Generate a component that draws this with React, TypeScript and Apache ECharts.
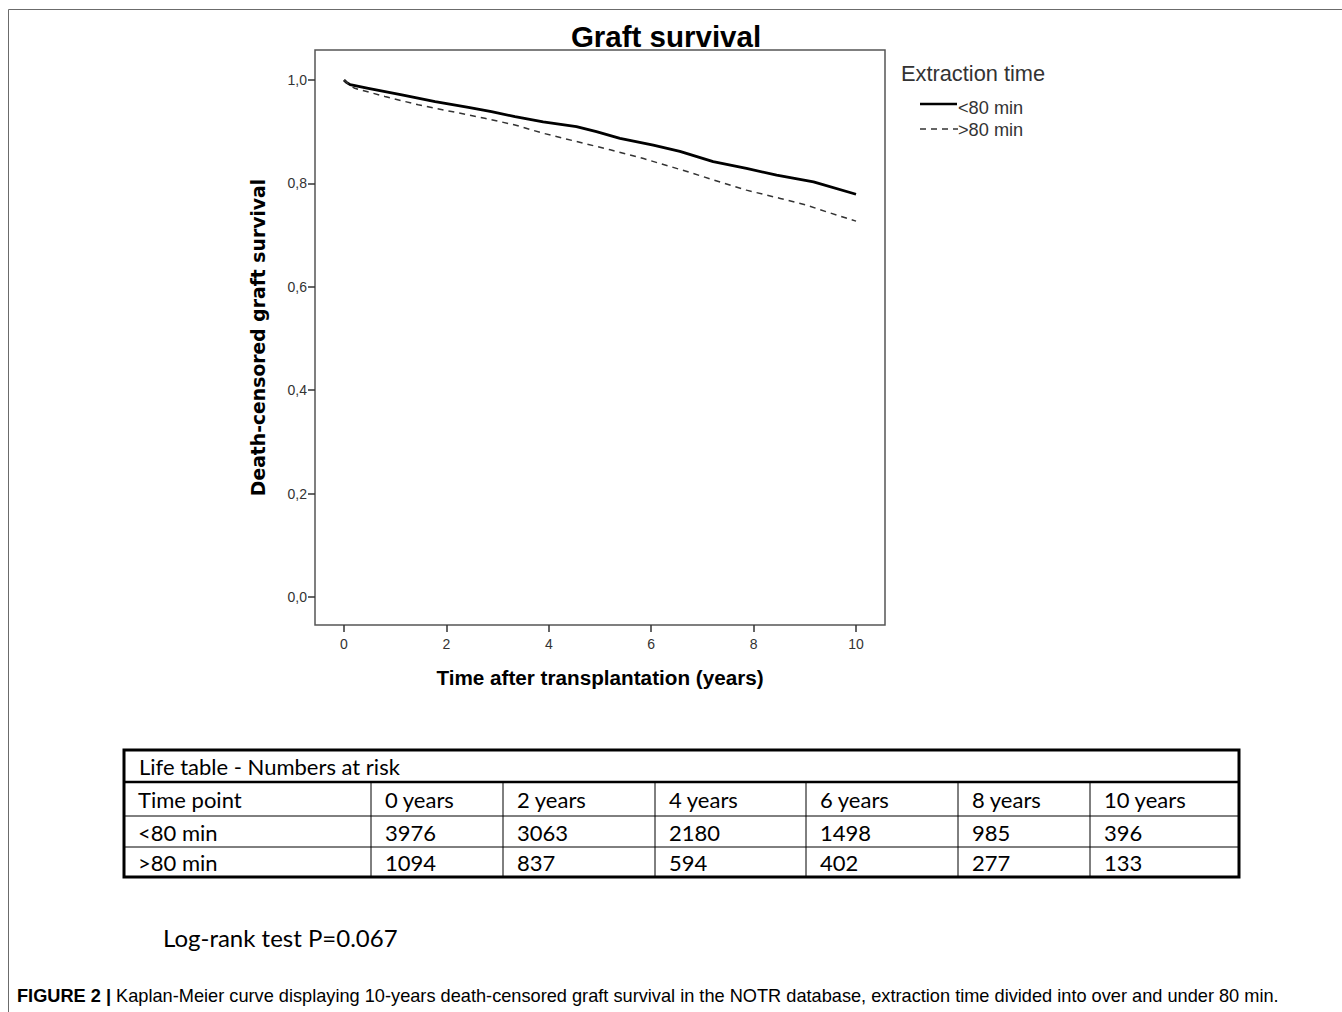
import React, { useEffect, useRef } from "react";
import * as echarts from "echarts";

// ---- Data ----
const xTicks = [0, 2, 4, 6, 8, 10];
const yTicks = [0, 0.2, 0.4, 0.6, 0.8, 1.0];

// Kaplan-Meier curves: [years, survival]
const under80: [number, number][] = [
  [0, 1.0], [0.04, 0.996], [0.12, 0.991], [0.475, 0.984], [1.13, 0.971], [1.78, 0.958],
  [2.43, 0.947], [2.88, 0.939], [3.34, 0.929], [3.89, 0.919], [4.54, 0.91],
  [4.93, 0.9], [5.39, 0.887], [6.04, 0.874], [6.56, 0.862], [7.21, 0.842],
  [7.86, 0.829], [8.45, 0.816], [9.17, 0.803], [10.0, 0.779],
];
const over80: [number, number][] = [
  [0, 1.0], [0.08, 0.993], [0.21, 0.984], [0.8, 0.968], [1.45, 0.952],
  [2.1, 0.939], [2.75, 0.926], [3.34, 0.913], [3.89, 0.897], [4.54, 0.881],
  [5.2, 0.865], [5.85, 0.848], [6.7, 0.823], [7.21, 0.807], [7.86, 0.787],
  [8.52, 0.771], [9.04, 0.758], [9.3, 0.749], [10.0, 0.727],
];

const seriesNames = ["<80 min", ">80 min"];
const tableTitle = "Life table - Numbers at risk";
const tableHeader = ["Time point", "0 years", "2 years", "4 years", "6 years", "8 years", "10 years"];
const riskUnder80 = ["<80 min", "3976", "3063", "2180", "1498", "985", "396"];
const riskOver80 = [">80 min", "1094", "837", "594", "402", "277", "133"];
const logRankText = "Log-rank test P=0.067";
const captionBold = "FIGURE 2 |";
const captionText =
  " Kaplan-Meier curve displaying 10-years death-censored graft survival in the NOTR database, extraction time divided into over and under 80 min.";

// ---- Layout ----
const W = 1342;
const H = 1012;
const colX = [124, 371, 503, 655, 806, 958, 1090, 1239];
const rowY = [750, 782, 816, 847, 877];

function buildGraphics() {
  const els: any[] = [];
  // page frame
  els.push({ type: "line", shape: { x1: 8.5, y1: 9.5, x2: W, y2: 9.5 }, style: { stroke: "#6b6b6b", lineWidth: 1 } });
  els.push({ type: "line", shape: { x1: 8.5, y1: 9.5, x2: 8.5, y2: H }, style: { stroke: "#6b6b6b", lineWidth: 1 } });

  // legend
  els.push({
    type: "text", x: 901, y: 73,
    style: { text: "Extraction time", font: "21.8px 'Liberation Sans'", fill: "#333", textAlign: "left", textVerticalAlign: "middle" },
  });
  els.push({ type: "line", shape: { x1: 920, y1: 104, x2: 957, y2: 104 }, style: { stroke: "#000", lineWidth: 2.5 } });
  els.push({
    type: "text", x: 958, y: 108,
    style: { text: seriesNames[0], font: "18.2px 'Liberation Sans'", fill: "#333", textAlign: "left", textVerticalAlign: "middle" },
  });
  els.push({ type: "line", shape: { x1: 920, y1: 129, x2: 958, y2: 129 }, style: { stroke: "#333", lineWidth: 1.5, lineDash: [6, 5] } });
  els.push({
    type: "text", x: 958, y: 130,
    style: { text: seriesNames[1], font: "18.2px 'Liberation Sans'", fill: "#333", textAlign: "left", textVerticalAlign: "middle" },
  });

  // table
  const L = colX[0];
  const R = colX[colX.length - 1];
  els.push({ type: "line", shape: { x1: L, y1: rowY[1], x2: R, y2: rowY[1] }, style: { stroke: "#000", lineWidth: 2.5 } });
  els.push({ type: "line", shape: { x1: L, y1: rowY[2], x2: R, y2: rowY[2] }, style: { stroke: "#000", lineWidth: 1 } });
  els.push({ type: "line", shape: { x1: L, y1: rowY[3], x2: R, y2: rowY[3] }, style: { stroke: "#000", lineWidth: 1 } });
  for (let i = 1; i < colX.length - 1; i++) {
    els.push({ type: "line", shape: { x1: colX[i], y1: rowY[1], x2: colX[i], y2: rowY[4] }, style: { stroke: "#000", lineWidth: 1 } });
  }
  els.push({
    type: "rect", shape: { x: L, y: rowY[0], width: R - L, height: rowY[4] - rowY[0] },
    style: { fill: "none", stroke: "#000", lineWidth: 3 },
  });
  const tfont = "22px Lato";
  els.push({
    type: "text", x: L + 15, y: (rowY[0] + rowY[1]) / 2,
    style: { text: tableTitle, font: tfont, fill: "#000", textAlign: "left", textVerticalAlign: "middle" },
  });
  const rows = [tableHeader, riskUnder80, riskOver80];
  rows.forEach((row, r) => {
    const cy = (rowY[r + 1] + rowY[r + 2]) / 2 + 0.5;
    row.forEach((cell, c) => {
      els.push({
        type: "text", x: colX[c] + 14, y: cy,
        style: { text: cell, font: tfont, fill: "#000", textAlign: "left", textVerticalAlign: "middle" },
      });
    });
  });

  // log-rank
  els.push({
    type: "text", x: 163, y: 937,
    style: { text: logRankText, font: "24px Lato", fill: "#000", textAlign: "left", textVerticalAlign: "middle" },
  });

  // caption
  els.push({
    type: "text", x: 17, y: 996,
    style: {
      text: "{b|" + captionBold + "}{n|" + captionText + "}",
      textAlign: "left", textVerticalAlign: "middle",
      rich: {
        b: { font: "bold 18.2px 'Liberation Sans'", fill: "#000" },
        n: { font: "18.2px 'Liberation Sans'", fill: "#000" },
      },
    },
  });
  return els;
}

export default function App() {
  const ref = useRef<HTMLDivElement>(null);
  useEffect(() => {
    if (!ref.current) return;
    const chart = echarts.init(ref.current, undefined, { renderer: "svg" });
    const fmt = (v: number) => v.toFixed(1).replace(".", ",");
    chart.setOption({
      animation: false,
      backgroundColor: "#fff",
      title: {
        text: "Graft survival",
        left: 661,
        top: 16,
        textAlign: "center",
        textStyle: { fontFamily: "'Liberation Sans'", fontWeight: "bold", fontSize: 29.5, color: "#000" },
      },
      grid: {
        left: 315, top: 50, width: 570, height: 575,
        show: true, borderColor: "#555", borderWidth: 1.5, backgroundColor: "#fff",
      },
      xAxis: {
        type: "value",
        min: -0.566,
        max: 10.566,
        name: "Time after transplantation (years)",
        nameLocation: "middle",
        nameGap: 42,
        nameTextStyle: { fontFamily: "'Liberation Sans'", fontWeight: "bold", fontSize: 20.7, color: "#000" },
        axisLine: { show: false, onZero: false },
        axisTick: { show: true, inside: false, length: 7, customValues: xTicks, lineStyle: { color: "#333", width: 1.5 } },
        axisLabel: { customValues: xTicks, fontFamily: "'Liberation Sans'", fontSize: 14, color: "#333", margin: 12 },
        splitLine: { show: false },
      },
      yAxis: {
        type: "value",
        min: -0.054,
        max: 1.058,
        name: "Death-censored graft survival",
        nameLocation: "middle",
        nameGap: 47,
        nameRotate: 90,
        nameTextStyle: { fontFamily: "'DejaVu Sans'", fontWeight: "bold", fontSize: 18.8, color: "#000" },
        axisLine: { show: false, onZero: false },
        axisTick: { show: true, inside: false, length: 7, customValues: yTicks, lineStyle: { color: "#333", width: 1.5 } },
        axisLabel: { customValues: yTicks, formatter: fmt, fontFamily: "'Liberation Sans'", fontSize: 14, color: "#333", margin: 8 },
        splitLine: { show: false },
      },
      series: [
        {
          name: seriesNames[0], type: "line", data: under80, symbol: "none",
          lineStyle: { color: "#000", width: 2.8 },
        },
        {
          name: seriesNames[1], type: "line", data: over80, symbol: "none",
          lineStyle: { color: "#333", width: 1.5, type: [6, 5] },
        },
      ],
      graphic: buildGraphics(),
    });
    return () => chart.dispose();
  }, []);
  return <div ref={ref} style={{ position: "absolute", left: 0, top: 0, width: W, height: H }} />;
}
